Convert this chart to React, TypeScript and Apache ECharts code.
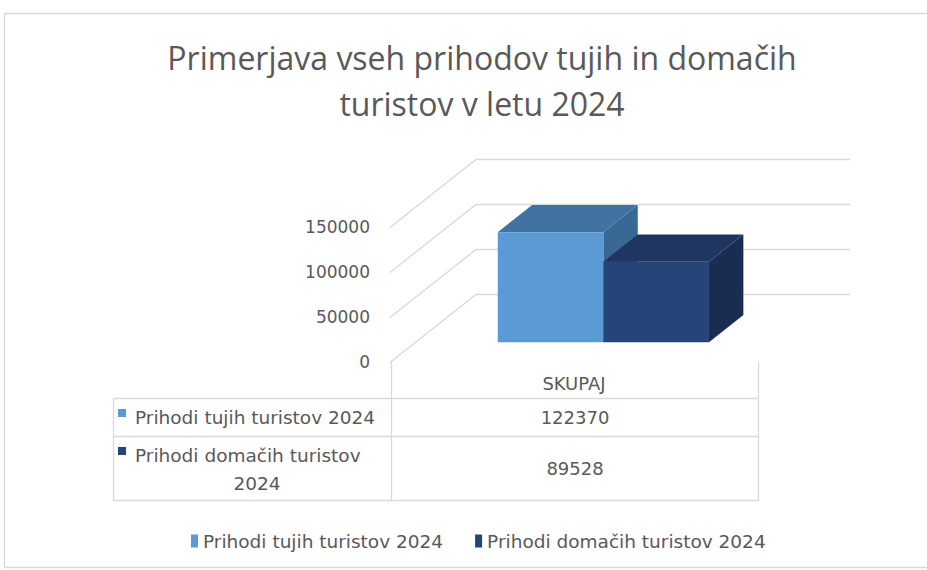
import React, { useEffect, useRef } from 'react';
import * as echarts from 'echarts';

// ---- data ----
const categories = ['SKUPAJ'];
const seriesNames = ['Prihodi tujih turistov 2024', 'Prihodi domačih turistov 2024'];
const foreignValues = [122370];
const domesticValues = [89528];
const yTicks = [0, 50000, 100000, 150000];
const titleLines = ['Primerjava vseh prihodov tujih in domačih', 'turistov v letu 2024'];

// ---- styling ----
const TEXT = '#595959';
const LINE = '#d9d9d9';
const FONT = 'DejaVu Sans';
const COLORS = [
  { front: '#5b9bd5', top: '#4272a2', side: '#3a6894' },
  { front: '#264478', top: '#1e3660', side: '#192d52' },
];
const DEPTH = { x: 86, y: -68 }; // offset of the back wall from the front plane
const BAR_Z0 = 0.29;
const BAR_DZ = 0.4;
const BAR_F0 = 0.225;
const BAR_FW = 0.287;

const GRID = { left: 390, right: 169, top: 227, bottom: 208 };

export default function App() {
  const ref = useRef<HTMLDivElement>(null);

  useEffect(() => {
    if (!ref.current) return;
    const chart = echarts.init(ref.current, undefined, { renderer: 'svg' });

    const renderGrid = (params: any, api: any) => {
      const v = api.value(1);
      const p = api.coord([0, v]);
      const bw = api.size([1, 0])[0];
      const left = p[0] - bw / 2;
      const right = p[0] + bw / 2;
      const y = Math.round(p[1]) + 0.5;
      return {
        type: 'polyline',
        silent: true,
        shape: {
          points: [
            [left, y],
            [left + DEPTH.x, y + DEPTH.y],
            [right + DEPTH.x + 6, y + DEPTH.y],
          ],
        },
        style: { stroke: LINE, lineWidth: 1.3, fill: null },
      };
    };

    const makeBar = (idx: number) => (params: any, api: any) => {
      const v = api.value(1);
      const base = api.coord([0, 0]);
      const top = api.coord([0, v]);
      const bw = api.size([1, 0])[0];
      const left = base[0] - bw / 2;
      const zx = BAR_Z0 * DEPTH.x;
      const zy = BAR_Z0 * DEPTH.y;
      const bx = BAR_DZ * DEPTH.x;
      const by = BAR_DZ * DEPTH.y;
      const f0 = BAR_F0 + idx * BAR_FW;
      const x0 = left + f0 * bw + zx;
      const x1 = left + (f0 + BAR_FW) * bw + zx;
      const yb = base[1] + zy;
      const yt = top[1] + zy;
      const c = COLORS[idx];
      return {
        type: 'group',
        children: [
          {
            type: 'polygon',
            shape: { points: [[x1, yt], [x1 + bx, yt + by], [x1 + bx, yb + by], [x1, yb]] },
            style: { fill: c.side },
          },
          {
            type: 'polygon',
            shape: { points: [[x0, yt], [x1, yt], [x1 + bx, yt + by], [x0 + bx, yt + by]] },
            style: { fill: c.top },
          },
          {
            type: 'rect',
            shape: { x: x0, y: yt, width: x1 - x0, height: yb - yt },
            style: { fill: c.front },
          },
        ],
      };
    };

    // table geometry (front plane of the plot)
    const W = 927;
    const H = 570;
    const tLeft = 113.5;
    const cLeft = GRID.left + 1.5;
    const cRight = W - GRID.right + 0.5;
    const floorY = H - GRID.bottom;
    const r1 = 398.5;
    const r2 = 436.5;
    const r3 = 500.5;
    const valueX = (cLeft + cRight) / 2;
    const values = [foreignValues[0], domesticValues[0]];
    const lastSpace = seriesNames[1].lastIndexOf(' ');
    const row2Lines = [seriesNames[1].slice(0, lastSpace), seriesNames[1].slice(lastSpace + 1)];

    const line = (x1: number, y1: number, x2: number, y2: number) => ({
      type: 'line',
      silent: true,
      shape: { x1, y1, x2, y2 },
      style: { stroke: LINE, lineWidth: 1.3 },
    });
    const txt = (text: string, x: number, y: number, align: string, size = 18) => ({
      type: 'text',
      silent: true,
      x,
      y,
      style: {
        text,
        fill: TEXT,
        fontSize: size,
        fontFamily: FONT,
        align,
        verticalAlign: 'middle',
      },
    });

    const graphics: any[] = [
      {
        type: 'rect',
        silent: true,
        z: -10,
        shape: { x: 4.5, y: 13.5, width: 940, height: 554 },
        style: { fill: 'none', stroke: LINE, lineWidth: 1.3 },
      },
      line(tLeft, r1, cRight, r1),
      line(tLeft, r2, cRight, r2),
      line(tLeft, r3, cRight, r3),
      line(tLeft, r1, tLeft, r3),
      line(cLeft, floorY, cLeft, r3),
      line(cRight, floorY, cRight, r3),
      {
        type: 'rect',
        silent: true,
        shape: { x: 118, y: 409, width: 8, height: 8 },
        style: { fill: COLORS[0].front },
      },
      {
        type: 'rect',
        silent: true,
        shape: { x: 118, y: 447, width: 8, height: 8 },
        style: { fill: COLORS[1].front },
      },
      txt(seriesNames[0], 135, 417, 'left', 18.5),
      txt(row2Lines[0], 135, 455, 'left', 18.5),
      txt(row2Lines[1], 257, 483, 'center', 18.5),
      txt(String(values[0]), valueX, 417, 'center'),
      txt(String(values[1]), valueX, 468, 'center'),
    ];

    chart.setOption({
      animation: false,
      title: {
        text: titleLines.join('\n'),
        left: 477,
        top: 29,
        textAlign: 'center',
        textStyle: {
          fontFamily: 'Open Sans',
          fontSize: 32,
          fontWeight: 'normal',
          color: TEXT,
          lineHeight: 46,
        },
      },
      legend: {
        data: seriesNames,
        left: 186,
        top: 526,
        padding: 5,
        icon: 'rect',
        itemWidth: 7,
        itemHeight: 13,
        itemGap: 32,
        textStyle: { fontFamily: FONT, fontSize: 18.5, color: TEXT, lineHeight: 20 },
      },
      grid: { ...GRID, containLabel: false },
      xAxis: {
        type: 'category',
        data: categories,
        axisLine: { show: false },
        axisTick: { show: false },
        splitLine: { show: false },
        axisLabel: {
          margin: 11,
          fontFamily: FONT,
          fontSize: 18,
          lineHeight: 20,
          color: TEXT,
        },
      },
      yAxis: {
        type: 'value',
        min: 0,
        max: 150000,
        interval: 50000,
        axisLine: { show: false },
        axisTick: { show: false },
        splitLine: { show: false },
        axisLabel: {
          margin: 20,
          fontFamily: FONT,
          fontSize: 17,
          color: TEXT,
          formatter: (v: number) => String(v),
        },
      },
      graphic: graphics,
      series: [
        {
          name: 'gridlines',
          type: 'custom',
          silent: true,
          clip: false,
          z: 1,
          renderItem: renderGrid,
          data: yTicks.map((t) => [0, t]),
        },
        {
          name: seriesNames[0],
          type: 'custom',
          clip: false,
          z: 2,
          itemStyle: { color: COLORS[0].front },
          renderItem: makeBar(0),
          data: foreignValues.map((v, i) => [i, v]),
        },
        {
          name: seriesNames[1],
          type: 'custom',
          clip: false,
          z: 3,
          itemStyle: { color: COLORS[1].front },
          renderItem: makeBar(1),
          data: domesticValues.map((v, i) => [i, v]),
        },
      ],
    });

    return () => chart.dispose();
  }, []);

  return (
    <div
      ref={ref}
      style={{ position: 'fixed', left: 0, top: 0, width: 927, height: 570, background: '#fff' }}
    />
  );
}
